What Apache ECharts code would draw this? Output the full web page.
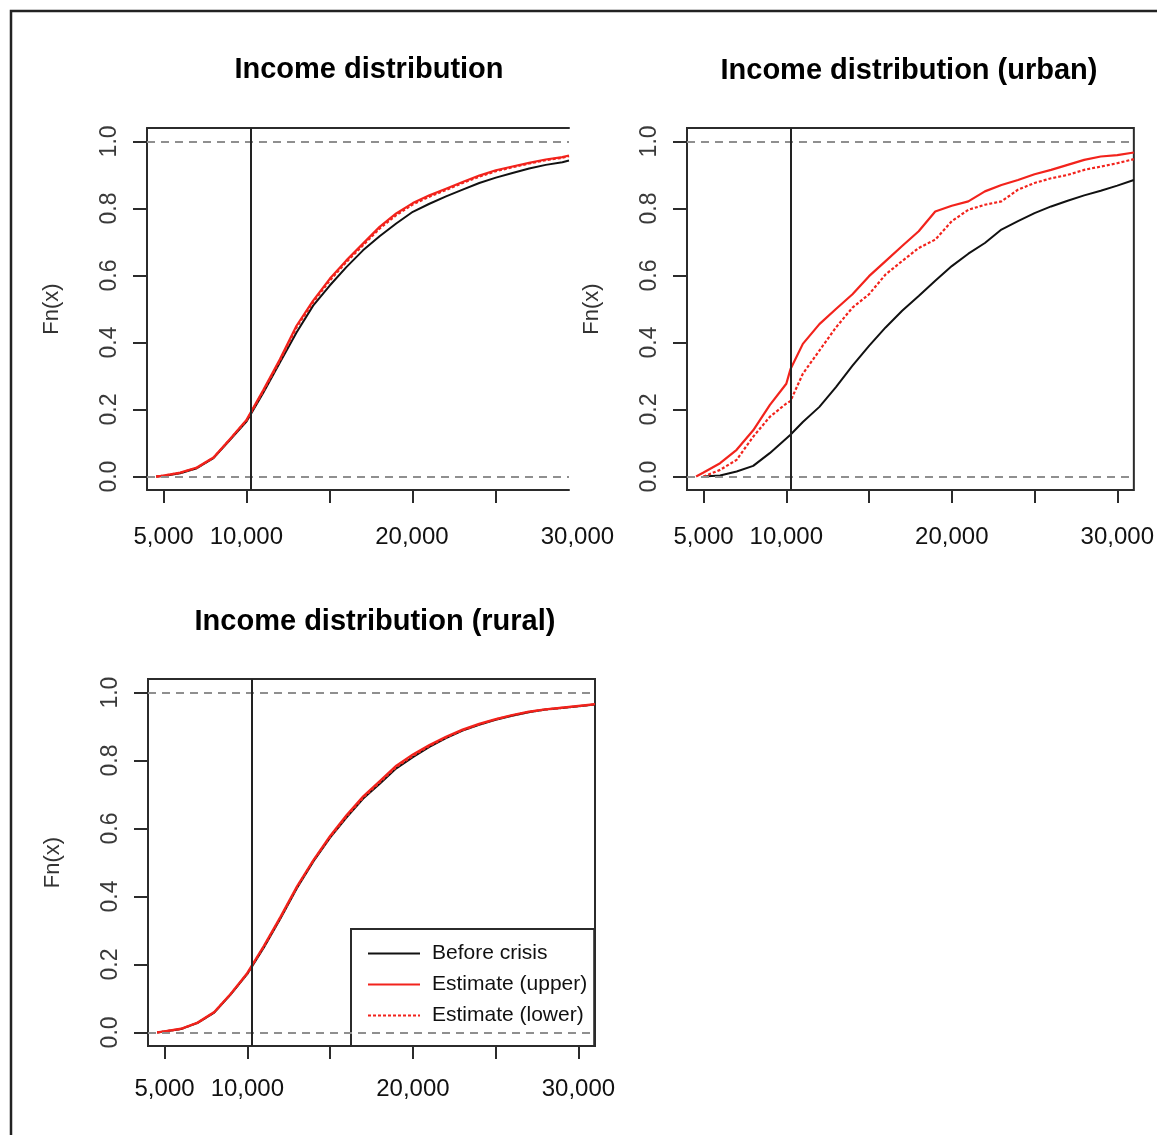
<!DOCTYPE html>
<html>
<head>
<meta charset="utf-8">
<title>Income distribution</title>
<script src="https://cdn.jsdelivr.net/npm/echarts@6/dist/echarts.min.js"></script>
<style>
  html, body { margin: 0; padding: 0; background: #fff; }
  #chart { width: 1157px; height: 1135px; }
</style>
</head>
<body>
<div id="chart"></div>
<script>
// Empirical distribution functions of household income:
// before the crisis, and upper / lower estimates after it.

// ---- all households ----
const incomeAll = [4550, 5000, 6000, 7000, 8000, 9000, 10000, 11000, 12000, 13000, 14000, 15000, 16000,
  17000, 18000, 19000, 20000, 21000, 22000, 23000, 24000, 25000, 26000, 27000, 28000, 29000, 29400];
const beforeAll = [0, 0.002, 0.01, 0.025, 0.055, 0.11, 0.165, 0.25, 0.34, 0.43, 0.51, 0.57, 0.625,
  0.675, 0.717, 0.755, 0.79, 0.814, 0.836, 0.856, 0.876, 0.892, 0.906, 0.919, 0.93, 0.938, 0.943];
const upperAll = [0, 0.003, 0.012, 0.027, 0.057, 0.112, 0.17, 0.258, 0.35, 0.45, 0.525, 0.59, 0.645,
  0.695, 0.745, 0.785, 0.816, 0.839, 0.859, 0.879, 0.898, 0.914, 0.925, 0.936, 0.946, 0.953, 0.958];
const lowerAll = [0, 0.003, 0.011, 0.026, 0.056, 0.111, 0.168, 0.255, 0.346, 0.445, 0.52, 0.585, 0.64,
  0.69, 0.74, 0.78, 0.812, 0.835, 0.855, 0.876, 0.895, 0.911, 0.923, 0.934, 0.944, 0.951, 0.956];

// ---- urban households ----
const incomeUrban = [4550, 5000, 6000, 7000, 8000, 9000, 10000, 10250, 11000, 12000, 13000, 14000, 15000,
  16000, 17000, 18000, 19000, 20000, 21000, 22000, 23000, 24000, 25000, 26000, 27000, 28000, 29000, 30000, 31000];
const beforeUrban = [null, 0, 0.003, 0.015, 0.032, 0.07, 0.114, 0.125, 0.163, 0.208, 0.267, 0.331, 0.39,
  0.445, 0.495, 0.539, 0.584, 0.628, 0.665, 0.697, 0.737, 0.762, 0.786, 0.806, 0.823, 0.839, 0.853, 0.868, 0.885];
const upperUrban = [0, 0.012, 0.04, 0.08, 0.138, 0.213, 0.277, 0.32, 0.396, 0.455, 0.5, 0.544, 0.598,
  0.643, 0.688, 0.732, 0.791, 0.808, 0.821, 0.851, 0.87, 0.885, 0.902, 0.915, 0.93, 0.945, 0.955, 0.959, 0.967];
const lowerUrban = [null, 0, 0.02, 0.05, 0.119, 0.178, 0.218, 0.225, 0.307, 0.376, 0.445, 0.504, 0.544,
  0.603, 0.643, 0.682, 0.707, 0.762, 0.796, 0.811, 0.821, 0.856, 0.876, 0.89, 0.9, 0.915, 0.925, 0.935, 0.947];

// ---- rural households ----
const incomeRural = [4550, 5000, 6000, 7000, 8000, 9000, 10000, 11000, 12000, 13000, 14000, 15000, 16000,
  17000, 18000, 19000, 20000, 21000, 22000, 23000, 24000, 25000, 26000, 27000, 28000, 29000, 30000, 31000];
const beforeRural = [0, 0.003, 0.01, 0.028, 0.058, 0.112, 0.172, 0.25, 0.335, 0.425, 0.504, 0.573, 0.633,
  0.688, 0.732, 0.777, 0.81, 0.84, 0.866, 0.888, 0.905, 0.92, 0.932, 0.942, 0.95, 0.955, 0.96, 0.965];
const upperRural = [0, 0.003, 0.011, 0.029, 0.06, 0.114, 0.175, 0.255, 0.34, 0.43, 0.508, 0.578, 0.64,
  0.695, 0.74, 0.785, 0.818, 0.846, 0.87, 0.891, 0.908, 0.922, 0.934, 0.944, 0.951, 0.956, 0.961, 0.966];
const lowerRural = [0, 0.003, 0.01, 0.028, 0.059, 0.113, 0.173, 0.252, 0.337, 0.427, 0.506, 0.575, 0.636,
  0.691, 0.736, 0.781, 0.814, 0.843, 0.868, 0.889, 0.906, 0.921, 0.933, 0.943, 0.95, 0.955, 0.96, 0.965];

// ---- axes ----
const xTickValues = [5000, 10000, 15000, 20000, 25000, 30000];
const xLabelValues = [5000, 10000, 20000, 30000];
const yTickValues = [0, 0.2, 0.4, 0.6, 0.8, 1.0];
const povertyLine = 10250;
const seriesNames = ['Before crisis', 'Estimate (upper)', 'Estimate (lower)'];
const panelTitles = ['Income distribution', 'Income distribution (urban)', 'Income distribution (rural)'];

const FONT = '"Liberation Sans", Arial, Helvetica, sans-serif';
const INK = '#2b2b2b';
const RED = '#f2231c';

const chart = echarts.init(document.getElementById('chart'), null, { renderer: 'canvas' });

function pairs(xs, ys) {
  const out = [];
  xs.forEach((x, i) => { if (ys[i] !== null) out.push([x, ys[i]]); });
  return out;
}

function xAxis(gridIndex, max, parts) {
  return {
    type: 'value', gridIndex, min: 4000, max, position: parts.top ? 'top' : 'bottom',
    splitLine: { show: false },
    axisLine: { show: !!parts.line, onZero: false, lineStyle: { color: INK, width: 2 } },
    axisTick: { show: !!parts.ticks, inside: false, length: 13, customValues: xTickValues,
      lineStyle: { color: INK, width: 2 } },
    axisLabel: { show: !!parts.labels, customValues: xLabelValues, margin: parts.margin || 35,
      formatter: v => v.toLocaleString('en-US'),
      fontFamily: FONT, fontSize: 24, color: '#111' }
  };
}

function yAxis(gridIndex, parts) {
  return {
    type: 'value', gridIndex, min: -0.04, max: 1.04, show: parts.show !== false,
    splitLine: { show: false },
    name: parts.show === false ? '' : 'Fn(x)', nameLocation: 'middle', nameGap: 84, nameRotate: 90,
    nameTextStyle: { fontFamily: FONT, fontSize: 22, color: '#333' },
    axisLine: { show: !!parts.line, onZero: false, lineStyle: { color: INK, width: 2 } },
    axisTick: { show: true, inside: false, length: 14, customValues: yTickValues,
      lineStyle: { color: INK, width: 2 } },
    axisLabel: { show: true, customValues: yTickValues, rotate: 90, margin: 26,
      formatter: v => v.toFixed(1), fontFamily: FONT, fontSize: 23, color: '#3a3a3a' }
  };
}

const refLines = {
  silent: true, symbol: 'none', animation: false, label: { show: false },
  emphasis: { disabled: true },
  data: [
    { yAxis: 0, lineStyle: { color: '#8f8f8f', type: [8, 6], width: 2 } },
    { yAxis: 1, lineStyle: { color: '#8f8f8f', type: [8, 6], width: 2 } },
    { xAxis: povertyLine, lineStyle: { color: '#222', type: 'solid', width: 2 } }
  ]
};

function panelSeries(xIdx, yIdx, xs, before, upper, lower) {
  const common = { type: 'line', xAxisIndex: xIdx, yAxisIndex: yIdx, symbol: 'none',
    smooth: false, clip: true, emphasis: { disabled: true } };
  return [
    Object.assign({}, common, { name: seriesNames[0], data: pairs(xs, before), z: 2,
      lineStyle: { color: '#111', width: 2 }, itemStyle: { color: '#111' }, markLine: refLines }),
    Object.assign({}, common, { name: seriesNames[1], data: pairs(xs, upper), z: 3,
      lineStyle: { color: RED, width: 2.2 }, itemStyle: { color: RED } }),
    Object.assign({}, common, { name: seriesNames[2], data: pairs(xs, lower), z: 4,
      lineStyle: { color: RED, width: 2.2, type: [3, 2] }, itemStyle: { color: RED } })
  ];
}

const titleFont = 'bold 29px ' + FONT;

const option = {
  animation: false,
  backgroundColor: '#fff',
  grid: [
    { left: 147, top: 128, width: 422, height: 362 },                       // all: plotted region
    { left: 147, top: 128, width: 447, height: 362 },                       // all: full label span
    { left: 687, top: 128, width: 447, height: 362, show: true, borderColor: INK, borderWidth: 2,
      backgroundColor: 'transparent' },                                     // urban
    { left: 148, top: 679, width: 447, height: 367, show: true, borderColor: INK, borderWidth: 2,
      backgroundColor: 'transparent' }                                      // rural
  ],
  xAxis: [
    xAxis(0, 29400, { line: true, ticks: true }),
    xAxis(0, 29400, { line: true, top: true }),
    xAxis(1, 31000, { labels: true }),
    xAxis(2, 31000, { ticks: true, labels: true }),
    xAxis(3, 31000, { ticks: true, labels: true, margin: 31 })
  ],
  yAxis: [
    yAxis(0, { line: true }),
    yAxis(1, { show: false }),
    yAxis(2, {}),
    yAxis(3, {})
  ],
  legend: {
    data: seriesNames, orient: 'vertical', left: 351, top: 929,
    itemWidth: 52, itemHeight: 20, itemGap: 10,
    padding: [14, 7, 20, 16],
    borderColor: INK, borderWidth: 2, backgroundColor: 'transparent',
    selectedMode: false,
    itemStyle: { opacity: 0 },
    textStyle: { fontFamily: FONT, fontSize: 21, color: '#111', lineHeight: 20, padding: [0, 0, 0, 7] }
  },
  series: [].concat(
    panelSeries(0, 0, incomeAll, beforeAll, upperAll, lowerAll),
    panelSeries(3, 2, incomeUrban, beforeUrban, upperUrban, lowerUrban),
    panelSeries(4, 3, incomeRural, beforeRural, upperRural, lowerRural)
  ),
  graphic: [
    { type: 'rect', silent: true, z: 100, shape: { x: 11, y: 11, width: 1400, height: 1400 },
      style: { fill: 'none', stroke: '#222', lineWidth: 2.5 } },
    { type: 'text', x: 369, y: 70, style: { text: panelTitles[0], font: titleFont, fill: '#000',
      align: 'center', verticalAlign: 'middle' } },
    { type: 'text', x: 909, y: 71, style: { text: panelTitles[1], font: titleFont, fill: '#000',
      align: 'center', verticalAlign: 'middle' } },
    { type: 'text', x: 375, y: 622, style: { text: panelTitles[2], font: titleFont, fill: '#000',
      align: 'center', verticalAlign: 'middle' } }
  ]
};

chart.setOption(option);
</script>
</body>
</html>
